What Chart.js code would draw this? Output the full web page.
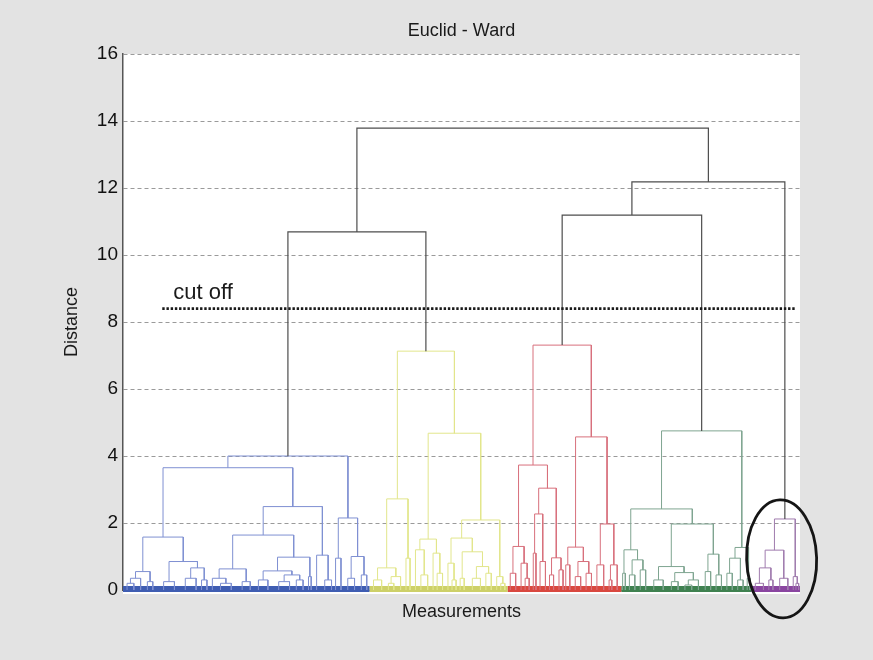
<!DOCTYPE html>
<html>
<head>
<meta charset="utf-8">
<script src="https://cdn.jsdelivr.net/npm/chart.js@4/dist/chart.umd.min.js"></script>
<style>
  html, body { margin: 0; padding: 0; background: #e3e3e3; }
  canvas { display: block; }
</style>
</head>
<body>
<canvas id="dendro" width="873" height="660"></canvas>
<script>
// Ward linkage on Euclidean distances.
// A node is [mergeDistance, left, right]; an integer is a tight group of
// that many measurements joined below the visible resolution.
const blueTree = [4.0,
  [3.65,
    [1.58,
      [0.55, [0.35, [0.2, 3, 2], 3], [0.25, 2, 2]],
      [0.85, [0.25, 6, 2], [0.66, [0.35, 6, 2], [0.3, 2, 2]]]
    ],
    [2.49,
      [1.64,
        [0.63, [0.35, 2, [0.2, 4, 4]], [0.25, 4, 2]],
        [0.98, [0.57, [0.3, 4, 3], [0.45, [0.25, 5, 3], [0.3, 2, 3]]], [0.4, 1, 1]]
      ],
      [1.04, 3, [0.3, 3, 2]]
    ]
  ],
  [2.15,
    [0.95, 1, 3],
    [1.0, [0.35, 2, 3], [0.45, 2, 2]]
  ]
];

const yellowTree = [7.13,
  [2.72,
    [0.66, [0.3, 3, 3], [0.4, [0.2, 2, 2], 3]],
    [0.95, 1, 2]
  ],
  [4.68,
    [1.52,
      [1.2, 2, [0.45, 2, 3]],
      [1.1, 1, [0.5, 2, 2]]
    ],
    [2.09,
      [1.55,
        [0.8, 2, [0.3, 1, 2]],
        [1.14, [0.35, 1, 2], [0.7, [0.35, 4, 2], [0.5, 2, 2]]]
      ],
      [0.4, 2, [0.2, 1, 2]]
    ]
  ]
];

const redTree = [7.31,
  [3.73,
    [1.3, [0.5, 2, 2], [0.8, 2, [0.35, 1, 2]]],
    [3.04,
      [2.27, [1.1, 1, 1], [0.85, 2, 2]],
      [0.96, [0.45, 1, 2], [0.6, 2, 1]]
    ]
  ],
  [4.57,
    [1.28, [0.75, 1, 2], [0.85, [0.4, 2, 2], [0.5, 2, 2]]],
    [1.97, [0.75, 2, 3], [0.75, [0.3, 1, 1], 3]]
  ]
];

const greenTree = [4.75,
  [2.42,
    [1.2, [0.5, 1, 1], [0.9, [0.45, 2, 2], [0.6, 2, 2]]],
    [1.97,
      [0.7, [0.3, 4, 3], [0.52, [0.25, 3, 2], [0.3, [0.15, 3, 2], 3]]],
      [1.07, [0.55, 2, 2], [0.45, 2, 2]]
    ]
  ],
  [1.27,
    [0.95, [0.5, 2, 2], [0.3, 2, 2]],
    [0.35, 1, 1]
  ]
];

const purpleTree = [2.12,
  [1.19,
    [0.66, [0.2, 3, 3], [0.3, 1, 2]],
    [0.35, 3, 3]
  ],
  [0.4, 1, [0.2, 1, 1]]
];

// Merges above the clusters
const upperTree = [13.79, [10.69, 'blue', 'yellow'], [12.18, [11.19, 'red', 'green'], 'purple']];

const clusterNames = ['blue', 'yellow', 'red', 'green', 'purple'];
const clusterTrees = { blue: blueTree, yellow: yellowTree, red: redTree, green: greenTree, purple: purpleTree };
const yTickValues = [0, 2, 4, 6, 8, 10, 12, 14, 16];
const cutOffDistance = 8.4;

const linkColors = {
  upper: '#4d4d4d', blue: '#7f90d2', yellow: '#e2e68c', red: '#d8707c', green: '#7fa591', purple: '#a07cae'
};
const bandColors = {
  blue: '#3f5db2', yellow: '#cdd068', red: '#d9483f', green: '#3f8150', purple: '#8a45a0'
};

// Lay out the leaves left to right; each link is drawn as an upside-down U.
const links = { upper: [] };
clusterNames.forEach(n => links[n] = []);
const spans = {};
let cursor = 0;
function place(node, group) {
  if (typeof node === 'number') {
    const x = cursor + node / 2;
    cursor += node;
    return { x, h: 0 };
  }
  if (typeof node === 'string') {
    const start = cursor;
    const r = place(clusterTrees[node], node);
    spans[node] = [start, cursor];
    return r;
  }
  const [h, a, b] = node;
  const l = place(a, group);
  const r = place(b, group);
  links[group].push(
    { x: l.x, y: l.h }, { x: l.x, y: h }, { x: r.x, y: h }, { x: r.x, y: r.h }, { x: r.x, y: null }
  );
  return { x: (l.x + r.x) / 2, h };
}
place(upperTree, 'upper');
const totalLeaves = cursor;

const datasets = [];
clusterNames.forEach(n => {
  datasets.push({
    data: [{ x: spans[n][0], y: 0.03 }, { x: spans[n][1], y: 0.03 }],
    borderColor: bandColors[n], borderWidth: 6, order: 2, clip: false
  });
});
['upper'].concat(clusterNames).forEach(n => {
  datasets.push({
    data: links[n], borderColor: linkColors[n], borderWidth: n === 'upper' ? 1.2 : 1, order: 1
  });
});
datasets.forEach(d => Object.assign(d, {
  showLine: true, spanGaps: false, pointRadius: 0, pointHoverRadius: 0, tension: 0, fill: false
}));

const plotBackground = {
  id: 'plotBackground',
  beforeDraw(chart) {
    const { ctx, chartArea: a } = chart;
    ctx.save();
    ctx.fillStyle = '#ffffff';
    ctx.fillRect(a.left, a.top, a.right - a.left, a.bottom - a.top + 4);
    ctx.restore();
  }
};

// Cut-off line and the circled cluster
const annotations = {
  id: 'annotations',
  afterDatasetsDraw(chart) {
    const { ctx, chartArea: a, scales: { x, y } } = chart;
    const yc = y.getPixelForValue(cutOffDistance);
    const x0 = a.left + 0.058 * (a.right - a.left);
    const x1 = a.left + 0.993 * (a.right - a.left);
    ctx.save();
    ctx.strokeStyle = '#1a1a1a';
    ctx.lineWidth = 2.6;
    ctx.setLineDash([2.4, 1.8]);
    ctx.beginPath();
    ctx.moveTo(x0, yc);
    ctx.lineTo(x1, yc);
    ctx.stroke();
    ctx.setLineDash([]);
    ctx.fillStyle = '#1a1a1a';
    ctx.font = "22px 'Liberation Sans', Arial, sans-serif";
    ctx.textAlign = 'left';
    ctx.textBaseline = 'alphabetic';
    ctx.fillText('cut off', x0 + 11, yc - 10);

    const p = spans.purple;
    const cx = x.getPixelForValue((p[0] + p[1]) / 2) + 6;
    const cy = y.getPixelForValue(0.93);
    ctx.strokeStyle = '#151515';
    ctx.lineWidth = 2.8;
    ctx.beginPath();
    ctx.ellipse(cx, cy, 35, 59, -0.03, 0, Math.PI * 2);
    ctx.stroke();
    ctx.restore();
  }
};

Chart.defaults.font.family = "'Liberation Sans', Arial, sans-serif";

new Chart(document.getElementById('dendro'), {
  type: 'scatter',
  data: { datasets },
  plugins: [plotBackground, annotations],
  options: {
    responsive: false,
    animation: false,
    devicePixelRatio: 1,
    layout: { padding: { left: 0, right: 73, top: 0, bottom: 0 } },
    plugins: {
      legend: { display: false },
      tooltip: { enabled: false },
      title: {
        display: true, text: 'Euclid - Ward', fullSize: false, color: '#1a1a1a',
        font: { size: 18, weight: 'normal' }, padding: { top: 20, bottom: 12.4 }
      }
    },
    scales: {
      x: {
        type: 'linear', min: 0, max: totalLeaves,
        ticks: { display: false },
        grid: { display: false, drawTicks: false },
        border: { display: false },
        title: {
          display: true, text: 'Measurements', color: '#1a1a1a',
          font: { size: 18 }, padding: { top: 0, bottom: 37 }
        },
        afterFit(s) { s.height = 70; }
      },
      y: {
        type: 'linear', min: 0, max: 16,
        afterBuildTicks(s) { s.ticks = yTickValues.map(v => ({ value: v })); },
        ticks: { color: '#111', font: { size: 19 }, padding: 5 },
        grid: { color: '#9a9a9a', lineWidth: 1, drawTicks: false },
        border: { display: true, color: '#555', width: 1.5, dash: [4, 3] },
        title: {
          display: true, text: 'Distance', color: '#1a1a1a',
          font: { size: 18 }, padding: { top: 61, bottom: 0 }
        },
        afterFit(s) { s.width = 123; }
      }
    }
  }
});
</script>
</body>
</html>
